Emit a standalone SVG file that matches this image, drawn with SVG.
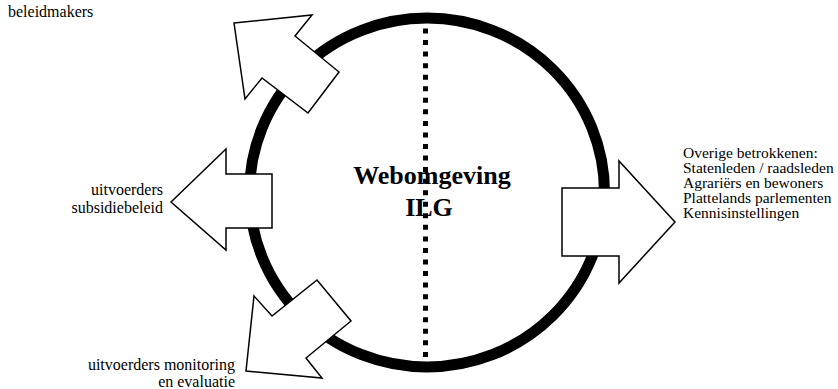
<svg xmlns="http://www.w3.org/2000/svg" width="838" height="389" viewBox="0 0 838 389">
<style>
.lbl{font-family:"Liberation Serif","Times New Roman",serif;font-size:16px;fill:#000}
.r{font-size:15.5px}
.title{font-family:"Liberation Serif","Times New Roman",serif;font-size:26px;font-weight:bold;fill:#000;text-anchor:middle}
.arrow{fill:#fff;stroke:#000;stroke-width:1.5;stroke-linejoin:miter}
</style>
<rect width="838" height="389" fill="#fff"/>
<g id="ring">
<ellipse cx="427" cy="192.5" rx="177.5" ry="174.5" fill="none" stroke="#000" stroke-width="11"/>
</g>
<g id="center">
<text class="title" x="432" y="184">Webomgeving</text>
<text class="title" x="429" y="216">ILG</text>
</g>
<g id="connectors">
<line x1="425.5" y1="28.5" x2="425.5" y2="358" stroke="#000" stroke-width="5" stroke-dasharray="5 6.55"/>
</g>
<g id="arrow-beleidmakers">
<polygon class="arrow" points="234,23 312,15 295,36 339,72 308,113 262,78 245,99"/>
</g>
<g id="arrow-subsidie">
<polygon class="arrow" points="171,202 226,149 226,174 272,174 272,228 226,228 226,250"/>
</g>
<g id="arrow-monitoring">
<polygon class="arrow" points="246,371 254,296 272,316 317,280 351,321 306,358 322,378"/>
</g>
<g id="arrow-overige">
<polygon class="arrow" points="675,222 619,161 619,188 562,188 562,256 619,256 619,283"/>
</g>
<g id="label-beleidmakers">
<text class="lbl" x="8" y="17">beleidmakers</text>
</g>
<g id="label-subsidie">
<text class="lbl" x="163" y="194.5" text-anchor="end">uitvoerders</text>
<text class="lbl" x="163" y="212.5" text-anchor="end">subsidiebeleid</text>
</g>
<g id="label-monitoring">
<text class="lbl" x="235" y="370" text-anchor="end">uitvoerders monitoring</text>
<text class="lbl" x="235" y="386.5" text-anchor="end">en evaluatie</text>
</g>
<g id="label-overige">
<text class="lbl r" x="683" y="157.5">Overige betrokkenen:</text>
<text class="lbl r" x="683" y="172.5">Statenleden / raadsleden</text>
<text class="lbl r" x="683" y="187.5">Agrariërs en bewoners</text>
<text class="lbl r" x="683" y="202.5">Plattelands parlementen</text>
<text class="lbl r" x="683" y="217.5">Kennisinstellingen</text>
</g>
</svg>
